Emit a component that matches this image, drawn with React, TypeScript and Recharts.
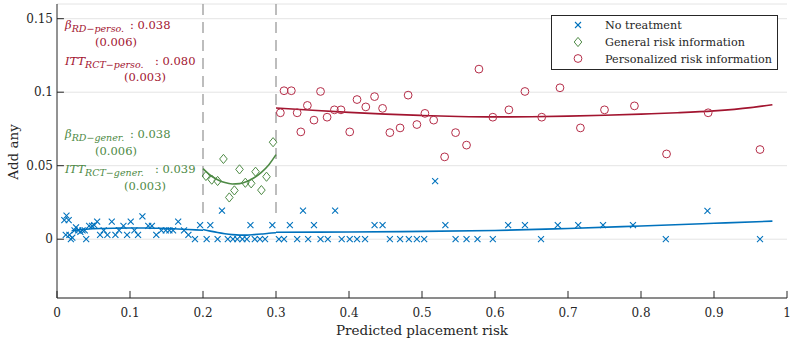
import React from 'react';
import { ComposedChart, Scatter, Line, XAxis, YAxis, CartesianGrid, ReferenceLine } from 'recharts';

// ---------- data ----------
const noTreatment: [number, number][] = [
  [0.010, 0.013], [0.013, 0.016], [0.016, 0.013], [0.012, 0.003], [0.017, 0.003], [0.019, 0.000],
  [0.021, 0.001], [0.024, 0.006], [0.026, 0.008], [0.029, 0.006], [0.032, 0.005], [0.035, 0.006],
  [0.038, 0.006], [0.040, 0.000], [0.044, 0.009], [0.048, 0.009], [0.051, 0.0095], [0.055, 0.012],
  [0.059, 0.003], [0.064, 0.006], [0.069, 0.003], [0.075, 0.012], [0.080, 0.003], [0.085, 0.006],
  [0.091, 0.009], [0.096, 0.003], [0.101, 0.012], [0.106, 0.006], [0.111, 0.003], [0.117, 0.0155],
  [0.125, 0.009], [0.130, 0.009], [0.136, 0.003], [0.143, 0.006], [0.149, 0.006], [0.154, 0.006],
  [0.159, 0.006], [0.166, 0.012], [0.174, 0.006], [0.180, 0.003], [0.189, 0.000], [0.196, 0.0095],
  [0.205, 0.000], [0.210, 0.0095], [0.220, 0.000], [0.226, 0.0195], [0.234, 0.000], [0.241, 0.000],
  [0.247, 0.000], [0.254, 0.000], [0.260, 0.000], [0.265, 0.0095], [0.271, 0.000], [0.278, 0.000],
  [0.285, 0.000], [0.295, 0.0095], [0.304, 0.000], [0.311, 0.000], [0.319, 0.0095], [0.329, 0.000],
  [0.337, 0.0195], [0.344, 0.000], [0.352, 0.0095], [0.361, 0.000], [0.371, 0.000], [0.381, 0.0195],
  [0.390, 0.000], [0.401, 0.000], [0.411, 0.000], [0.422, 0.000], [0.435, 0.0095], [0.446, 0.0095],
  [0.456, 0.000], [0.470, 0.000], [0.482, 0.000], [0.493, 0.000], [0.503, 0.000], [0.518, 0.0395],
  [0.532, 0.0095], [0.546, 0.000], [0.561, 0.000], [0.576, 0.000], [0.597, 0.000], [0.618, 0.0095],
  [0.641, 0.0095], [0.663, 0.000], [0.686, 0.0095], [0.714, 0.0095], [0.748, 0.0095], [0.789, 0.0095],
  [0.834, 0.000], [0.891, 0.0193], [0.963, 0.000],
];

const generalInfo: [number, number][] = [
  [0.204, 0.043], [0.212, 0.0405], [0.220, 0.0396], [0.228, 0.0546], [0.236, 0.0284],
  [0.243, 0.0332], [0.250, 0.0475], [0.258, 0.0384], [0.266, 0.038], [0.272, 0.0459],
  [0.280, 0.0334], [0.287, 0.0425], [0.296, 0.066],
];

const personalInfo: [number, number][] = [
  [0.306, 0.086], [0.311, 0.101], [0.321, 0.101], [0.329, 0.086], [0.334, 0.073], [0.343, 0.091],
  [0.352, 0.081], [0.361, 0.1005], [0.370, 0.083], [0.380, 0.088], [0.389, 0.088], [0.401, 0.073],
  [0.411, 0.095], [0.423, 0.090], [0.435, 0.097], [0.446, 0.089], [0.456, 0.0725], [0.470, 0.0757],
  [0.481, 0.098], [0.493, 0.078], [0.504, 0.0856], [0.516, 0.081], [0.531, 0.056], [0.546, 0.0725],
  [0.561, 0.064], [0.578, 0.1157], [0.597, 0.083], [0.619, 0.088], [0.641, 0.1005], [0.664, 0.083],
  [0.689, 0.103], [0.717, 0.0757], [0.750, 0.088], [0.791, 0.0907], [0.835, 0.058], [0.892, 0.086],
  [0.963, 0.061],
];

const fitNoneLow: [number, number][] = [
  [0.02, 0.0058], [0.04, 0.0068], [0.06, 0.0073], [0.08, 0.0075], [0.10, 0.0076], [0.12, 0.0076],
  [0.14, 0.0074], [0.16, 0.0071], [0.18, 0.0066], [0.20, 0.0061],
];
const fitNoneMid: [number, number][] = [
  [0.20, 0.0066], [0.21, 0.0055], [0.22, 0.0045], [0.23, 0.0037], [0.24, 0.0031], [0.25, 0.0028],
  [0.26, 0.0028], [0.27, 0.0031], [0.28, 0.0035], [0.29, 0.0040], [0.30, 0.0044],
];
const fitNoneHigh: [number, number][] = [
  [0.30, 0.0047], [0.40, 0.0049], [0.50, 0.0053], [0.60, 0.0059], [0.70, 0.0073], [0.80, 0.0090],
  [0.90, 0.0108], [0.98, 0.0123],
];
const fitGeneral: [number, number][] = [
  [0.20, 0.048], [0.21, 0.0435], [0.22, 0.0405], [0.23, 0.0385], [0.24, 0.0376], [0.25, 0.0378],
  [0.26, 0.0392], [0.27, 0.0418], [0.28, 0.0455], [0.29, 0.0505], [0.30, 0.0575],
];
const fitPersonal: [number, number][] = [
  [0.30, 0.0893], [0.35, 0.0877], [0.40, 0.0863], [0.45, 0.0851], [0.50, 0.0842], [0.55, 0.0835],
  [0.60, 0.0832], [0.65, 0.0833], [0.70, 0.0837], [0.75, 0.0843], [0.80, 0.0851], [0.85, 0.0860],
  [0.90, 0.0873], [0.95, 0.0895], [0.98, 0.0915],
];

const xTicks = [0, 0.1, 0.2, 0.3, 0.4, 0.5, 0.6, 0.7, 0.8, 0.9, 1];
const yTicks = [0, 0.05, 0.1, 0.15];
const cutoffs = [0.2, 0.3];
const legendLabels = ['No treatment', 'General risk information', 'Personalized risk information'];
const xLabel = 'Predicted placement risk';
const yLabel = 'Add any';

// ---------- styles ----------
const BLUE = '#0072bd';
const GREEN = '#4e8a45';
const RED = '#a2142f';
const RED_MK = '#b52d48';
const AXIS = '#262626';
const FONT = 'DejaVu Serif';

const pts = (a: [number, number][]) => a.map(([x, y]) => ({ x, y }));

const XMark = (p: any) => {
  const { cx, cy } = p;
  const s = 3;
  return (
    <g>
      <line x1={cx - s} y1={cy - s} x2={cx + s} y2={cy + s} stroke={BLUE} strokeWidth={1.1} />
      <line x1={cx - s} y1={cy + s} x2={cx + s} y2={cy - s} stroke={BLUE} strokeWidth={1.1} />
    </g>
  );
};
const Diamond = (p: any) => {
  const { cx, cy } = p;
  const w = 3.8, h = 4.6;
  return <path d={`M${cx},${cy - h} L${cx + w},${cy} L${cx},${cy + h} L${cx - w},${cy} Z`} fill="none" stroke={GREEN} strokeWidth={1} />;
};
const Circ = (p: any) => {
  const { cx, cy } = p;
  return <circle cx={cx} cy={cy} r={3.9} fill="none" stroke={RED_MK} strokeWidth={1} />;
};

const W = 791, H = 341;
const ANN = 11.5;
const SUB = 9.5;

export default function App() {
  return (
    <div style={{ position: 'absolute', left: 0, top: 0, width: W, height: H, background: '#fff' }}>
      <ComposedChart width={W} height={H} margin={{ top: 4, right: 4, bottom: 0, left: 0 }}>
        <CartesianGrid horizontal vertical={false} stroke="#e4e4e4" strokeWidth={1} />
        <XAxis
          type="number"
          dataKey="x"
          domain={[0, 1]}
          ticks={xTicks}
          interval={0}
          allowDataOverflow
          height={43}
          tickSize={0}
          tickMargin={10}
          tickFormatter={(v: number) => String(v)}
          axisLine={{ stroke: AXIS, strokeWidth: 1 }}
          tick={{ fill: AXIS, fontSize: 12, fontFamily: FONT }}
        />
        <YAxis
          type="number"
          dataKey="y"
          domain={[-0.04, 0.16]}
          ticks={yTicks}
          interval={0}
          allowDataOverflow
          width={57}
          tickSize={0}
          tickMargin={4}
          tickFormatter={(v: number) => String(v)}
          axisLine={{ stroke: AXIS, strokeWidth: 1 }}
          tick={{ fill: AXIS, fontSize: 12, fontFamily: FONT }}
        />
        {yTicks.map((t) => (
          <ReferenceLine key={'yt' + t} segment={[{ x: 0, y: t }, { x: 0.0095, y: t }]} stroke={AXIS} strokeWidth={1} ifOverflow="visible" />
        ))}
        {xTicks.map((t) => (
          <ReferenceLine key={'xt' + t} segment={[{ x: t, y: -0.04 }, { x: t, y: -0.0352 }]} stroke={AXIS} strokeWidth={1} ifOverflow="visible" />
        ))}
        {cutoffs.map((c) => (
          <ReferenceLine key={'c' + c} segment={[{ x: c, y: 0.16 }, { x: c, y: 0.016 }]} stroke="#9a9a9a" strokeWidth={1.3} strokeDasharray="11 7" ifOverflow="visible" />
        ))}
        <Scatter data={pts(noTreatment)} dataKey="y" shape={XMark} isAnimationActive={false} />
        <Scatter data={pts(generalInfo)} dataKey="y" shape={Diamond} isAnimationActive={false} />
        <Scatter data={pts(personalInfo)} dataKey="y" shape={Circ} isAnimationActive={false} />
        <Line data={pts(fitNoneLow)} dataKey="y" type="monotone" stroke={BLUE} strokeWidth={1.6} dot={false} activeDot={false} isAnimationActive={false} />
        <Line data={pts(fitNoneMid)} dataKey="y" type="monotone" stroke={BLUE} strokeWidth={1.6} dot={false} activeDot={false} isAnimationActive={false} />
        <Line data={pts(fitNoneHigh)} dataKey="y" type="monotone" stroke={BLUE} strokeWidth={1.6} dot={false} activeDot={false} isAnimationActive={false} />
        <Line data={pts(fitGeneral)} dataKey="y" type="monotone" stroke={GREEN} strokeWidth={1.6} dot={false} activeDot={false} isAnimationActive={false} />
        <Line data={pts(fitPersonal)} dataKey="y" type="monotone" stroke={RED} strokeWidth={1.6} dot={false} activeDot={false} isAnimationActive={false} />
      </ComposedChart>

      <svg width={W} height={H} style={{ position: 'absolute', left: 0, top: 0, pointerEvents: 'none', fontFamily: FONT }}>
        {/* axis labels */}
        <text x={422} y={335} textAnchor="middle" fontSize={13.5} fill={AXIS}>{xLabel}</text>
        <text x={17.5} y={152} textAnchor="middle" fontSize={13.5} fill={AXIS} transform="rotate(-90 17.5 152)">{yLabel}</text>

        {/* annotations: personalized */}
        <text y={29} fontSize={ANN} fill={RED}>
          <tspan x={65} fontStyle="italic">β</tspan>
          <tspan fontStyle="italic" fontSize={SUB} dy={3}>RD−perso.</tspan>
          <tspan x={130} dy={-3}>: 0.038</tspan>
        </text>
        <text x={116} y={46} fontSize={ANN} fill={RED} textAnchor="middle">(0.006)</text>
        <text y={65} fontSize={ANN} fill={RED}>
          <tspan x={65} fontStyle="italic">ITT</tspan>
          <tspan fontStyle="italic" fontSize={SUB} dy={3}>RCT−perso.</tspan>
          <tspan x={155} dy={-3}>: 0.080</tspan>
        </text>
        <text x={145} y={81} fontSize={ANN} fill={RED} textAnchor="middle">(0.003)</text>

        {/* annotations: general */}
        <text y={138} fontSize={ANN} fill={GREEN}>
          <tspan x={65} fontStyle="italic">β</tspan>
          <tspan fontStyle="italic" fontSize={SUB} dy={3}>RD−gener.</tspan>
          <tspan x={130} dy={-3}>: 0.038</tspan>
        </text>
        <text x={116} y={155} fontSize={ANN} fill={GREEN} textAnchor="middle">(0.006)</text>
        <text y={173} fontSize={ANN} fill={GREEN}>
          <tspan x={65} fontStyle="italic">ITT</tspan>
          <tspan fontStyle="italic" fontSize={SUB} dy={3}>RCT−gener.</tspan>
          <tspan x={155} dy={-3}>: 0.039</tspan>
        </text>
        <text x={145} y={190} fontSize={ANN} fill={GREEN} textAnchor="middle">(0.003)</text>

        {/* legend */}
        <rect x={551.5} y={15.5} width={226} height={54} fill="#fff" stroke={AXIS} strokeWidth={1} />
        <g>
          <line x1={575} y1={22} x2={581} y2={28} stroke={BLUE} strokeWidth={1.1} />
          <line x1={575} y1={28} x2={581} y2={22} stroke={BLUE} strokeWidth={1.1} />
          <path d="M578,37.4 L581.8,42 L578,46.6 L574.2,42 Z" fill="none" stroke={GREEN} strokeWidth={1} />
          <circle cx={578} cy={58.5} r={3.9} fill="none" stroke={RED_MK} strokeWidth={1} />
        </g>
        {legendLabels.map((l, i) => (
          <text key={l} x={605} y={[29, 46, 62.5][i]} fontSize={11.2} fill={AXIS}>{l}</text>
        ))}
      </svg>
    </div>
  );
}
